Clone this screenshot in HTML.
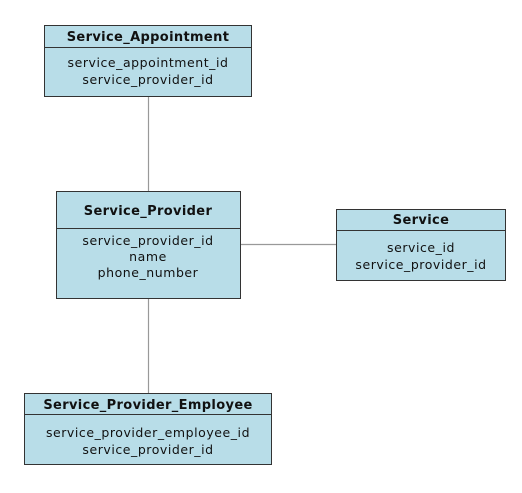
<!DOCTYPE html>
<html><head><meta charset="utf-8"><style>
html,body{margin:0;padding:0;background:#fff;}
svg text{font-family:"DejaVu Sans","Liberation Sans",sans-serif;font-size:12.5px;letter-spacing:0.55px;fill:#111;text-anchor:middle;}
svg text.h{font-weight:bold;font-size:13px;letter-spacing:0.35px;}
</style></head><body>
<svg width="522" height="488" xmlns="http://www.w3.org/2000/svg">
<g stroke="#999" stroke-width="1.2">
<line x1="148.5" y1="97" x2="148.5" y2="191"/>
<line x1="148.5" y1="299" x2="148.5" y2="394"/>
<line x1="241" y1="244.5" x2="336" y2="244.5"/>
</g>
<g fill="#b8dde8" stroke="#333" stroke-width="1">
<rect x="44.5" y="25.5" width="207" height="71"/>
<line x1="44.5" y1="47.5" x2="251.5" y2="47.5"/>
<rect x="56.5" y="191.5" width="184" height="107"/>
<line x1="56.5" y1="228.5" x2="240.5" y2="228.5"/>
<rect x="336.5" y="209.5" width="169" height="71"/>
<line x1="336.5" y1="230.5" x2="505.5" y2="230.5"/>
<rect x="24.5" y="393.5" width="247" height="71"/>
<line x1="24.5" y1="414.5" x2="271.5" y2="414.5"/>
</g>
<text class="h" x="148" y="41">Service_Appointment</text>
<text x="148" y="67">service_appointment_id</text>
<text x="148" y="84">service_provider_id</text>
<text class="h" x="148" y="215">Service_Provider</text>
<text x="148" y="245">service_provider_id</text>
<text x="148" y="261">name</text>
<text x="148" y="277">phone_number</text>
<text class="h" x="421" y="224">Service</text>
<text x="421" y="252">service_id</text>
<text x="421" y="269">service_provider_id</text>
<text class="h" x="148" y="409">Service_Provider_Employee</text>
<text x="148" y="437">service_provider_employee_id</text>
<text x="148" y="454">service_provider_id</text>
</svg>
</body></html>
